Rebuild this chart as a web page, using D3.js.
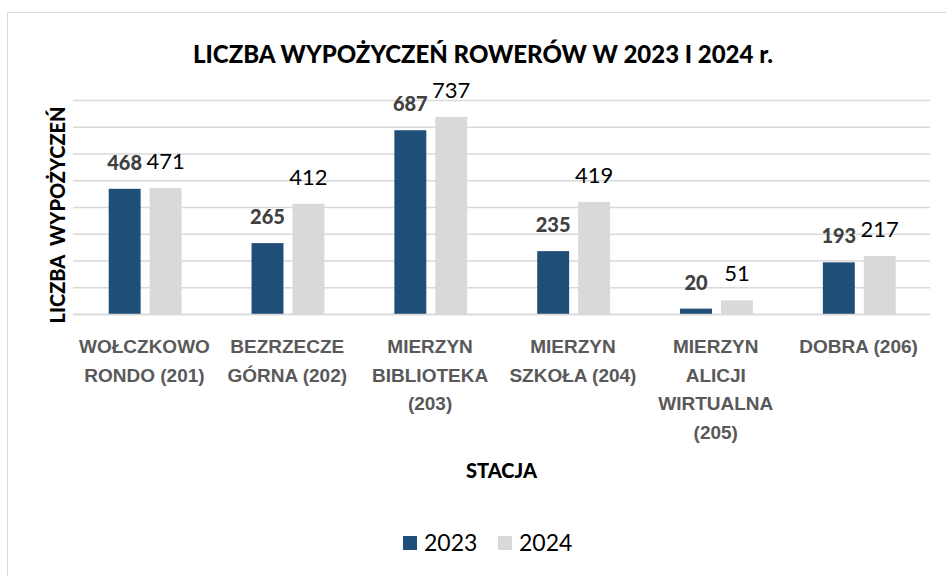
<!DOCTYPE html>
<html>
<head>
<meta charset="utf-8">
<script src="https://cdn.jsdelivr.net/npm/d3@7"></script>
<style>
  body { margin: 0; background: #fff; }
  svg { display: block; font-family: Lato, Carlito, Calibri, sans-serif; }
</style>
</head>
<body>
<svg id="chart"></svg>
<script>
// data
const stations = [
  ["WOŁCZKOWO", "RONDO (201)"],
  ["BEZRZECZE", "GÓRNA (202)"],
  ["MIERZYN", "BIBLIOTEKA", "(203)"],
  ["MIERZYN", "SZKOŁA (204)"],
  ["MIERZYN", "ALICJI", "WIRTUALNA", "(205)"],
  ["DOBRA (206)"]
];
const years = ["2023", "2024"];
const values2023 = [468, 265, 687, 235, 20, 193];
const values2024 = [471, 412, 737, 419, 51, 217];
const yTicks = [0, 100, 200, 300, 400, 500, 600, 700, 800];

const colors = { "2023": "#1f4e79", "2024": "#d9d9d9" };

const width = 946, height = 576;
const margin = { top: 100, right: 16, bottom: 262, left: 73 };
const innerW = width - margin.left - margin.right;
const innerH = height - margin.top - margin.bottom;

const svg = d3.select("#chart").attr("width", width).attr("height", height);

// chart border (runs off the right and bottom of the picture)
svg.append("rect")
    .attr("x", 7.5).attr("y", 12.5)
    .attr("width", 960).attr("height", 600)
    .attr("fill", "none").attr("stroke", "#d9d9d9");

const rows = stations.map((s, i) => ({
  key: i,
  lines: s,
  vals: [values2023[i], values2024[i]]
}));

const x0 = d3.scaleBand()
    .domain(rows.map(d => d.key))
    .range([0, innerW]);
const x1 = d3.scaleBand()
    .domain(years)
    .range([x0.bandwidth() * 0.25, x0.bandwidth() * 0.76])
    .paddingInner(0.22);
const y = d3.scaleLinear().domain([0, 800]).range([innerH, 0]);

const g = svg.append("g").attr("transform", `translate(${margin.left},${margin.top})`);

// gridlines
const grid = g.append("g")
    .call(d3.axisLeft(y).tickValues(yTicks).tickSize(-innerW).tickFormat(""));
grid.select(".domain").remove();
grid.selectAll("line").attr("stroke", "#d9d9d9").attr("stroke-width", 1.3);

// bars
const groups = g.selectAll(".grp")
    .data(rows)
    .join("g")
    .attr("transform", d => `translate(${x0(d.key)},0)`);

groups.selectAll("rect")
    .data(d => years.map((yr, j) => ({ yr, v: d.vals[j] })))
    .join("rect")
    .attr("x", d => x1(d.yr))
    .attr("y", d => y(d.v))
    .attr("width", x1.bandwidth())
    .attr("height", d => innerH - y(d.v))
    .attr("fill", d => colors[d.yr]);

// value labels
groups.selectAll("text.val")
    .data(d => years.map((yr, j) => ({ yr, v: d.vals[j] })))
    .join("text")
    .attr("class", "val")
    .attr("x", d => x1(d.yr) + x1.bandwidth() / 2)
    .attr("y", d => y(d.v) - 19)
    .attr("text-anchor", "middle")
    .attr("font-size", d => d.yr === "2023" ? 20 : 22)
    .attr("font-weight", d => d.yr === "2023" ? "900" : "normal")
    .attr("fill", d => d.yr === "2023" ? "#404040" : "#000")
    .text(d => d.v);

// x axis labels, one tspan per line
const xAxis = g.append("g")
    .attr("transform", `translate(0,${innerH})`)
    .call(d3.axisBottom(x0).tickSize(0).tickFormat(""));
xAxis.select(".domain").attr("stroke", "#d9d9d9").attr("stroke-width", 1.3);
xAxis.selectAll(".tick text").remove();
xAxis.selectAll(".tick")
    .append("text")
    .attr("text-anchor", "middle")
    .attr("font-size", 19)
    .attr("font-weight", "900")
    .attr("fill", "#595959")
    .selectAll("tspan")
    .data(k => rows[k].lines)
    .join("tspan")
    .attr("x", 0)
    .attr("y", (d, i) => 39 + i * 28.5)
    .text(d => d);

// title
svg.append("text")
    .attr("x", 483).attr("y", 63)
    .attr("text-anchor", "middle")
    .attr("font-size", 24)
    .attr("font-weight", "900")
    .attr("fill", "#000")
    .text("LICZBA WYPOŻYCZEŃ ROWERÓW W 2023 I 2024 r.");

// axis titles
svg.append("text")
    .attr("transform", `translate(65,215) rotate(-90)`)
    .attr("text-anchor", "middle")
    .attr("font-size", 20)
    .attr("font-weight", "900")
    .attr("fill", "#000")
    .attr("xml:space", "preserve")
    .text("LICZBA  WYPOŻYCZEŃ");

svg.append("text")
    .attr("x", margin.left + innerW / 2).attr("y", 478)
    .attr("text-anchor", "middle")
    .attr("font-size", 20)
    .attr("font-weight", "900")
    .attr("fill", "#000")
    .text("STACJA");

// legend
const legend = svg.append("g").attr("transform", "translate(403,536)");
const items = legend.selectAll("g")
    .data(years)
    .join("g")
    .attr("transform", (d, i) => `translate(${i * 95},0)`);
items.append("rect")
    .attr("width", 14).attr("height", 14)
    .attr("fill", d => colors[d]);
items.append("text")
    .attr("x", 21).attr("y", 15)
    .attr("font-size", 23)
    .attr("fill", "#000")
    .text(d => d);
</script>
</body>
</html>
